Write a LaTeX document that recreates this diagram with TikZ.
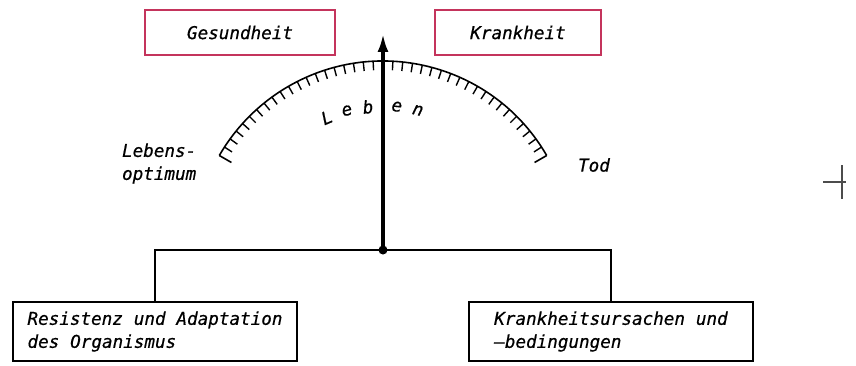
\documentclass[tikz,border=0pt]{standalone}
\usepackage{fontspec}
\newfontfamily\lettering{DejaVu Sans Mono}[FakeBold=0.6, ItalicFeatures={FakeBold=0.6}]
\usetikzlibrary{arrows.meta}
\definecolor{boxred}{RGB}{196,52,92}
\DeclareRobustCommand\letterfont{\lettering\itshape\fontsize{8.8}{11.5}\selectfont\spaceskip=0.62em\relax}
\tikzset{
  label text/.style={font=\letterfont},
  statebox/.style={label text, draw=boxred, line width=1pt, minimum width=95pt, minimum height=22.5pt, inner sep=0pt},
  factorbox/.style={label text, draw, line width=1.1pt, align=left, minimum width=142pt, minimum height=29.5pt}
}
\begin{document}
\begin{tikzpicture}[x=0.5pt, y=0.5pt]
  \useasboundingbox (0,0) rectangle (856,365);

  % Draw the two states at the top
  \node[statebox] (gesund) at (240,332.5) {Gesundheit};
  \node[statebox, minimum width=83pt] (krank) at (518,332.5) {Krankheit};

  % Draw the scale: arc round the pivot with ticks pointing inward
  \coordinate (pivot) at (383,115);
  \begin{scope}[shift={(pivot)}]
    \draw[line width=0.8pt] (30:189) arc (30:150:189);
    \foreach \a in {33,36,...,147} {
        \draw[line width=0.7pt] (\a:189) -- (\a:180);
    }
    \foreach \a in {30,150} {
        \draw[line width=0.8pt] (\a:189) -- (\a:175);
    }
    % Letters of the word along the arc
    \foreach \ch/\a in {L/113,e/104.5,b/96,e/84.5,n/76} {
        \node[label text, rotate=\a-90] at (\a:144) {\ch};
    }
  \end{scope}

  % Ends of the scale
  \node[label text, anchor=west, align=left] (optimum) at (115,201.5) {Lebens-\\optimum};
  \node[label text, anchor=west] (tod) at (571,200) {Tod};

  % Pointer
  \coordinate (tip) at (383,331);
  \draw[line width=1.6pt, -{Latex[length=9pt,width=5.5pt]}] (pivot) -- (tip);
  \fill (pivot) circle (4.5);

  % Draw the two influences below
  \node[factorbox] (resistenz) at (155,33.5) {Resistenz und Adaptation\\des Organismus};
  \node[factorbox] (ursachen) at (611,33.5) {Krankheitsursachen und\\\textendash bedingungen};
  \draw[line width=0.8pt] (pivot) -| (resistenz.north);
  \draw[line width=0.8pt] (pivot) -| (ursachen.north);

  % Registration mark at the right
  \draw[line width=0.6pt, black!70] (823,183) -- (846,183);
  \draw[line width=0.6pt, black!70] (842,200) -- (842,166);
\end{tikzpicture}
\end{document}
